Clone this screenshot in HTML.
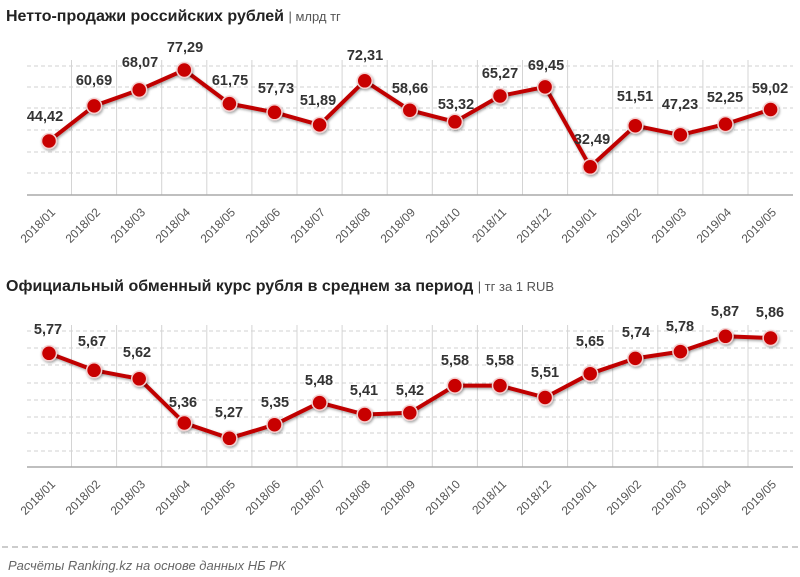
<!DOCTYPE html>
<html><head><meta charset="utf-8"><style>
html,body{margin:0;padding:0;background:#fff;}
svg{display:block;font-family:"Liberation Sans",sans-serif;}
.t{font-weight:bold;font-size:16px;fill:#222;}
.u{font-size:13px;fill:#555;font-weight:normal;}
.v{font-weight:bold;font-size:14.5px;fill:#333;text-anchor:middle;}
.x{font-size:12px;fill:#555;text-anchor:end;}
.g{stroke:#d0d0d0;stroke-width:1;stroke-dasharray:4,3;}
.vg{stroke:#d4d4d4;stroke-width:1;}
.ln{fill:none;stroke:#c00000;stroke-width:4;stroke-linejoin:round;}
.d{fill:#c80000;stroke:#f3d0d0;stroke-width:1.5;}
</style></head><body>
<svg width="800" height="577" viewBox="0 0 800 577">
<defs><filter id="sh" x="-50%" y="-50%" width="200%" height="200%"><feDropShadow dx="1" dy="1.5" stdDeviation="1.2" flood-color="#000" flood-opacity="0.35"/></filter></defs>
<text x="6" y="21" class="t">Нетто-продажи российских рублей <tspan class="u">| млрд тг</tspan></text>
<g>
<line class="g" x1="27" x2="793" y1="66" y2="66"/><line class="g" x1="27" x2="793" y1="87" y2="87"/><line class="g" x1="27" x2="793" y1="108" y2="108"/><line class="g" x1="27" x2="793" y1="130" y2="130"/><line class="g" x1="27" x2="793" y1="152" y2="152"/><line class="g" x1="27" x2="793" y1="173" y2="173"/>
<g class="vg"><line x1="71.5" x2="71.5" y1="60" y2="195"/><line x1="116.6" x2="116.6" y1="60" y2="195"/><line x1="161.7" x2="161.7" y1="60" y2="195"/><line x1="206.8" x2="206.8" y1="60" y2="195"/><line x1="251.9" x2="251.9" y1="60" y2="195"/><line x1="297" x2="297" y1="60" y2="195"/><line x1="342.1" x2="342.1" y1="60" y2="195"/><line x1="387.2" x2="387.2" y1="60" y2="195"/><line x1="432.3" x2="432.3" y1="60" y2="195"/><line x1="477.4" x2="477.4" y1="60" y2="195"/><line x1="522.5" x2="522.5" y1="60" y2="195"/><line x1="567.6" x2="567.6" y1="60" y2="195"/><line x1="612.7" x2="612.7" y1="60" y2="195"/><line x1="657.8" x2="657.8" y1="60" y2="195"/><line x1="702.9" x2="702.9" y1="60" y2="195"/><line x1="748" x2="748" y1="60" y2="195"/></g>
<line x1="27" x2="793" y1="195" y2="195" stroke="#aaa" stroke-width="1.5"/>
<polyline class="ln" filter="url(#sh)" points="49,141 94.1,105.9 139.2,89.9 184.3,70 229.4,103.6 274.5,112.3 319.6,124.9 364.7,80.8 409.8,110.2 454.9,121.8 500,96 545.1,86.9 590.2,166.8 635.3,125.7 680.4,134.9 725.5,124.1 770.6,109.5"/>
<g class="d" filter="url(#sh)"><circle cx="49" cy="141" r="7.5"/><circle cx="94.1" cy="105.9" r="7.5"/><circle cx="139.2" cy="89.9" r="7.5"/><circle cx="184.3" cy="70" r="7.5"/><circle cx="229.4" cy="103.6" r="7.5"/><circle cx="274.5" cy="112.3" r="7.5"/><circle cx="319.6" cy="124.9" r="7.5"/><circle cx="364.7" cy="80.8" r="7.5"/><circle cx="409.8" cy="110.2" r="7.5"/><circle cx="454.9" cy="121.8" r="7.5"/><circle cx="500" cy="96" r="7.5"/><circle cx="545.1" cy="86.9" r="7.5"/><circle cx="590.2" cy="166.8" r="7.5"/><circle cx="635.3" cy="125.7" r="7.5"/><circle cx="680.4" cy="134.9" r="7.5"/><circle cx="725.5" cy="124.1" r="7.5"/><circle cx="770.6" cy="109.5" r="7.5"/></g>
<text class="v" x="45" y="121">44,42</text><text class="v" x="94" y="85">60,69</text><text class="v" x="140" y="67">68,07</text><text class="v" x="185" y="52">77,29</text><text class="v" x="230" y="85">61,75</text><text class="v" x="276" y="93">57,73</text><text class="v" x="318" y="105">51,89</text><text class="v" x="365" y="60">72,31</text><text class="v" x="410" y="93">58,66</text><text class="v" x="456" y="109">53,32</text><text class="v" x="500" y="78">65,27</text><text class="v" x="546" y="70">69,45</text><text class="v" x="592" y="144">32,49</text><text class="v" x="635" y="101">51,51</text><text class="v" x="680" y="109">47,23</text><text class="v" x="725" y="102">52,25</text><text class="v" x="770" y="93">59,02</text>
<g class="x">
<text transform="translate(56,213) rotate(-45)">2018/01</text><text transform="translate(101,213) rotate(-45)">2018/02</text><text transform="translate(146,213) rotate(-45)">2018/03</text><text transform="translate(191,213) rotate(-45)">2018/04</text><text transform="translate(236,213) rotate(-45)">2018/05</text><text transform="translate(281,213) rotate(-45)">2018/06</text><text transform="translate(326,213) rotate(-45)">2018/07</text><text transform="translate(371,213) rotate(-45)">2018/08</text><text transform="translate(416,213) rotate(-45)">2018/09</text><text transform="translate(461,213) rotate(-45)">2018/10</text><text transform="translate(507,213) rotate(-45)">2018/11</text><text transform="translate(552,213) rotate(-45)">2018/12</text><text transform="translate(597,213) rotate(-45)">2019/01</text><text transform="translate(642,213) rotate(-45)">2019/02</text><text transform="translate(687,213) rotate(-45)">2019/03</text><text transform="translate(732,213) rotate(-45)">2019/04</text><text transform="translate(777,213) rotate(-45)">2019/05</text>
</g>
</g>
<text x="6" y="291" class="t">Официальный обменный курс рубля в среднем за период <tspan class="u">| тг за 1 RUB</tspan></text>
<g>
<line class="g" x1="27" x2="793" y1="331" y2="331"/><line class="g" x1="27" x2="793" y1="348" y2="348"/><line class="g" x1="27" x2="793" y1="365" y2="365"/><line class="g" x1="27" x2="793" y1="383" y2="383"/><line class="g" x1="27" x2="793" y1="400" y2="400"/><line class="g" x1="27" x2="793" y1="417" y2="417"/><line class="g" x1="27" x2="793" y1="433" y2="433"/><line class="g" x1="27" x2="793" y1="451" y2="451"/>
<g class="vg"><line x1="71.5" x2="71.5" y1="325" y2="467"/><line x1="116.6" x2="116.6" y1="325" y2="467"/><line x1="161.7" x2="161.7" y1="325" y2="467"/><line x1="206.8" x2="206.8" y1="325" y2="467"/><line x1="251.9" x2="251.9" y1="325" y2="467"/><line x1="297" x2="297" y1="325" y2="467"/><line x1="342.1" x2="342.1" y1="325" y2="467"/><line x1="387.2" x2="387.2" y1="325" y2="467"/><line x1="432.3" x2="432.3" y1="325" y2="467"/><line x1="477.4" x2="477.4" y1="325" y2="467"/><line x1="522.5" x2="522.5" y1="325" y2="467"/><line x1="567.6" x2="567.6" y1="325" y2="467"/><line x1="612.7" x2="612.7" y1="325" y2="467"/><line x1="657.8" x2="657.8" y1="325" y2="467"/><line x1="702.9" x2="702.9" y1="325" y2="467"/><line x1="748" x2="748" y1="325" y2="467"/></g>
<line x1="27" x2="793" y1="467" y2="467" stroke="#aaa" stroke-width="1.5"/>
<polyline class="ln" filter="url(#sh)" points="49,353.3 94.1,370.3 139.2,378.8 184.3,423 229.4,438.3 274.5,424.7 319.6,402.6 364.7,414.5 409.8,412.8 454.9,385.6 500,385.6 545.1,397.5 590.2,373.7 635.3,358.4 680.4,351.6 725.5,336.3 770.6,338"/>
<g class="d" filter="url(#sh)"><circle cx="49" cy="353.3" r="7.5"/><circle cx="94.1" cy="370.3" r="7.5"/><circle cx="139.2" cy="378.8" r="7.5"/><circle cx="184.3" cy="423" r="7.5"/><circle cx="229.4" cy="438.3" r="7.5"/><circle cx="274.5" cy="424.7" r="7.5"/><circle cx="319.6" cy="402.6" r="7.5"/><circle cx="364.7" cy="414.5" r="7.5"/><circle cx="409.8" cy="412.8" r="7.5"/><circle cx="454.9" cy="385.6" r="7.5"/><circle cx="500" cy="385.6" r="7.5"/><circle cx="545.1" cy="397.5" r="7.5"/><circle cx="590.2" cy="373.7" r="7.5"/><circle cx="635.3" cy="358.4" r="7.5"/><circle cx="680.4" cy="351.6" r="7.5"/><circle cx="725.5" cy="336.3" r="7.5"/><circle cx="770.6" cy="338" r="7.5"/></g>
<text class="v" x="48" y="334">5,77</text><text class="v" x="92" y="346">5,67</text><text class="v" x="137" y="357">5,62</text><text class="v" x="183" y="407">5,36</text><text class="v" x="229" y="417">5,27</text><text class="v" x="275" y="407">5,35</text><text class="v" x="319" y="385">5,48</text><text class="v" x="364" y="395">5,41</text><text class="v" x="410" y="395">5,42</text><text class="v" x="455" y="365">5,58</text><text class="v" x="500" y="365">5,58</text><text class="v" x="545" y="377">5,51</text><text class="v" x="590" y="346">5,65</text><text class="v" x="636" y="337">5,74</text><text class="v" x="680" y="331">5,78</text><text class="v" x="725" y="316">5,87</text><text class="v" x="770" y="317">5,86</text>
<g class="x">
<text transform="translate(56,485) rotate(-45)">2018/01</text><text transform="translate(101,485) rotate(-45)">2018/02</text><text transform="translate(146,485) rotate(-45)">2018/03</text><text transform="translate(191,485) rotate(-45)">2018/04</text><text transform="translate(236,485) rotate(-45)">2018/05</text><text transform="translate(281,485) rotate(-45)">2018/06</text><text transform="translate(326,485) rotate(-45)">2018/07</text><text transform="translate(371,485) rotate(-45)">2018/08</text><text transform="translate(416,485) rotate(-45)">2018/09</text><text transform="translate(461,485) rotate(-45)">2018/10</text><text transform="translate(507,485) rotate(-45)">2018/11</text><text transform="translate(552,485) rotate(-45)">2018/12</text><text transform="translate(597,485) rotate(-45)">2019/01</text><text transform="translate(642,485) rotate(-45)">2019/02</text><text transform="translate(687,485) rotate(-45)">2019/03</text><text transform="translate(732,485) rotate(-45)">2019/04</text><text transform="translate(777,485) rotate(-45)">2019/05</text>
</g>
</g>
<line x1="2" x2="798" y1="547" y2="547" stroke="#999" stroke-width="1" stroke-dasharray="6,4"/>
<text x="8" y="570" font-size="13" font-style="italic" fill="#666">Расчёты Ranking.kz на основе данных НБ РК</text>
</svg>
</body></html>
